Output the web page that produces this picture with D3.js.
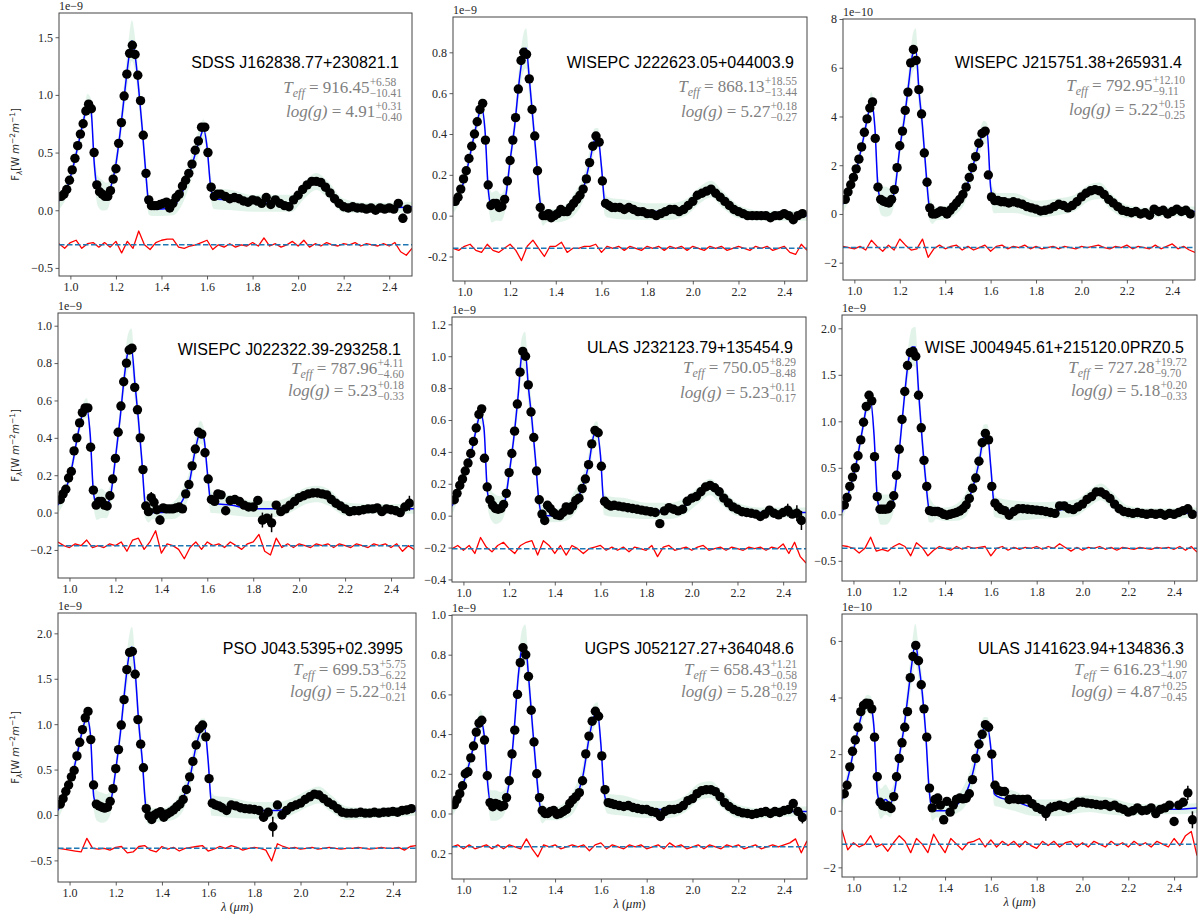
<!DOCTYPE html>
<html>
<head>
<meta charset="utf-8">
<script src="https://cdn.jsdelivr.net/npm/d3@7"></script>
<style>
  body { margin: 0; background: #fff; }
</style>
</head>
<body>
<svg id="chart" width="1198" height="918"></svg>
<script>
// ---- data ---------------------------------------------------------------

// wavelength grid of the observed spectra (micron)
const wave = [
  0.960,0.972,0.984,0.996,1.008,1.020,1.032,1.044,1.056,1.068,1.080,1.092,1.104,1.116,1.128,1.140,1.152,1.164,1.176,1.188,
  1.200,1.212,1.224,1.236,1.248,1.260,1.272,1.284,1.296,1.308,1.320,1.332,1.344,1.356,1.368,
  1.380,1.394,1.408,1.422,1.436,1.450,1.464,1.478,1.492,1.506,1.520,1.534,1.548,1.562,1.576,1.590,1.604,1.618,1.632,1.646,1.660,
  1.68,1.70,1.72,1.74,1.76,1.78,1.80,1.82,1.84,1.86,1.88,1.90,1.92,1.94,1.96,1.98,2.00,2.02,2.04,2.06,2.08,2.10,
  2.12,2.14,2.16,2.18,2.20,2.22,2.24,2.26,2.28,2.30,2.32,2.34,2.36,2.38,2.40,2.42,2.44,2.46,2.48
];

// wavelength grid of the best-fit model
const modelWave = [
  0.95,0.98,1.01,1.04,1.06,1.075,1.09,1.105,1.12,1.14,1.16,1.18,1.20,1.22,1.24,1.255,1.27,1.285,1.30,1.315,1.33,1.345,
  1.36,1.40,1.45,1.49,1.52,1.55,1.57,1.585,1.60,1.615,1.63,1.70,1.80,1.90,1.97,2.03,2.08,2.13,2.20,2.30,2.40,2.50
];

// half width of the model spread, as a fraction of the model peak
const bandWidth = [
  0.05,0.05,0.05,0.05,0.05,0.06,0.06,0.08,0.09,0.09,0.08,0.07,0.06,0.07,0.09,0.11,0.12,0.10,0.09,0.08,0.08,0.06,
  0.04,0.04,0.05,0.07,0.07,0.07,0.07,0.06,0.06,0.07,0.06,0.06,0.05,0.05,0.05,0.05,0.05,0.05,0.04,0.03,0.03,0.03
];

// wavelength grid of the residuals
const resWave = [
  0.95,0.975,1.0,1.025,1.05,1.075,1.1,1.125,1.15,1.175,1.2,1.225,1.25,1.275,1.3,1.325,1.35,1.375,1.4,1.425,1.45,1.475,
  1.5,1.525,1.55,1.575,1.6,1.625,1.65,1.675,1.7,1.725,1.75,1.775,1.8,1.825,1.85,1.875,1.9,1.925,1.95,1.975,
  2.0,2.025,2.05,2.075,2.1,2.125,2.15,2.175,2.2,2.225,2.25,2.275,2.3,2.325,2.35,2.375,2.4,2.425,2.45,2.475,2.5
];

const names = [
  "SDSS J162838.77+230821.1", "WISEPC J222623.05+044003.9", "WISEPC J215751.38+265931.4",
  "WISEPC J022322.39-293258.1", "ULAS J232123.79+135454.9", "WISE J004945.61+215120.0PRZ0.5",
  "PSO J043.5395+02.3995", "UGPS J052127.27+364048.6", "ULAS J141623.94+134836.3"
];
const teff = [
  ["916.45", "+6.58", "\u221210.41"], ["868.13", "+18.55", "\u221213.44"], ["792.95", "+12.10", "\u22129.11"],
  ["787.96", "+4.11", "\u22124.60"], ["750.05", "+8.29", "\u22128.48"], ["727.28", "+19.72", "\u22129.70"],
  ["699.53", "+5.75", "\u22126.22"], ["658.43", "+1.21", "\u22120.58"], ["616.23", "+1.90", "\u22124.07"]
];
const logg = [
  ["4.91", "+0.31", "\u22120.40"], ["5.27", "+0.18", "\u22120.27"], ["5.22", "+0.15", "\u22120.25"],
  ["5.23", "+0.18", "\u22120.33"], ["5.23", "+0.11", "\u22120.17"], ["5.18", "+0.20", "\u22120.33"],
  ["5.22", "+0.14", "\u22120.21"], ["5.28", "+0.19", "\u22120.27"], ["4.87", "+0.25", "\u22120.45"]
];
const scaleText = ["1e\u22129","1e\u22129","1e\u221210","1e\u22129","1e\u22129","1e\u22129","1e\u22129","1e\u22129","1e\u221210"];

// observed flux (units of the panel's scale text)
const flux1 = [
  0.12,0.14,0.18,0.26,0.35,0.45,0.56,0.66,0.75,0.86,0.92,0.88,0.50,0.22,0.16,0.14,0.12,0.12,0.17,0.27,0.36,0.58,0.76,0.99,1.18,1.36,1.43,1.35,1.17,0.95,0.65,0.32,0.09,0.04,0.04,
  0.04,0.05,0.06,0.07,0.02,0.06,0.11,0.14,0.21,0.26,0.32,0.40,0.52,0.60,0.72,0.72,0.50,0.20,0.12,0.14,0.14,
  0.12,0.10,0.11,0.10,0.08,0.07,0.09,0.08,0.06,0.11,0.05,0.09,0.06,0.04,0.03,0.09,0.13,0.18,0.22,0.25,0.25,0.24,0.20,0.15,0.10,0.06,0.03,0.02,0.03,0.02,0.02,0.01,0.02,0.00,0.02,0.01,0.02,0.01,0.06,-0.07,0.01
];
const flux2 = [
  0.07,0.09,0.13,0.18,0.22,0.28,0.34,0.40,0.46,0.52,0.55,0.37,0.15,0.05,0.06,0.06,0.04,0.045,0.08,0.17,0.27,0.37,0.48,0.62,0.76,0.80,0.79,0.67,0.52,0.39,0.22,0.04,0.00,0.00,0.01,
  -0.01,0.00,0.01,0.03,0.02,0.02,0.04,0.06,0.08,0.10,0.13,0.18,0.26,0.34,0.39,0.36,0.17,0.06,0.05,0.04,0.04,
  0.04,0.03,0.04,0.03,0.02,0.02,0.01,0.01,0.00,0.01,0.02,0.03,0.03,0.02,0.03,0.05,0.07,0.10,0.11,0.12,0.13,0.11,0.09,0.07,0.05,0.03,0.02,0.01,0.00,0.00,0.00,0.00,0.00,-0.01,0.00,0.00,0.01,0.00,-0.02,0.00,0.01
];
const flux3 = [
  0.6,0.9,1.2,1.5,1.85,2.25,2.75,3.35,3.9,4.35,4.6,3.1,1.1,0.6,0.52,0.48,0.45,0.6,1.0,1.9,2.8,3.4,4.25,5.0,6.2,6.75,6.3,5.1,4.1,2.5,1.3,0.25,0.0,0.0,0.05,
  0.12,0.1,0.0,0.15,0.3,0.45,0.6,0.8,1.1,1.5,1.9,2.35,2.9,3.3,3.4,1.6,0.7,0.55,0.55,0.5,0.5,
  0.45,0.5,0.45,0.4,0.3,0.25,0.2,0.12,0.15,0.2,0.3,0.4,0.35,0.25,0.35,0.5,0.7,0.85,0.95,1.0,0.95,0.8,0.6,0.45,0.3,0.15,0.1,0.05,0.1,0.0,0.05,-0.05,0.2,0.1,0.15,0.0,0.1,0.2,0.1,0.15,0.0
];
const flux4 = [
  0.07,0.10,0.125,0.185,0.22,0.33,0.40,0.48,0.535,0.56,0.56,0.35,0.12,0.04,0.06,0.06,0.04,0.035,0.09,0.18,0.29,0.43,0.57,0.70,0.80,0.87,0.88,0.67,0.55,0.40,0.23,0.035,0.005,0.08,0.055,
  0.015,-0.04,0.025,0.02,0.02,0.02,0.025,0.03,0.02,0.10,0.15,0.25,0.34,0.43,0.42,0.32,0.18,0.07,0.06,0.10,0.095,
  0.01,0.065,0.07,0.06,0.04,0.03,0.03,0.065,-0.04,-0.03,-0.055,0.04,0.005,0.02,0.04,0.06,0.08,0.09,0.10,0.105,0.105,0.10,0.095,0.07,0.05,0.035,0.02,0.005,0.01,0.01,0.015,0.02,0.02,0.025,0.005,0.02,0.015,0.01,0.0,0.03,0.05
];
const flux5 = [
  0.10,0.14,0.19,0.23,0.28,0.33,0.39,0.465,0.55,0.635,0.67,0.36,0.18,0.10,0.065,0.045,0.04,0.045,0.07,0.14,0.27,0.39,0.53,0.70,0.90,1.03,1.00,0.82,0.65,0.49,0.28,0.10,0.01,-0.03,0.065,
  0.045,0.02,0.005,0.0,0.02,0.055,0.035,0.06,0.095,0.11,0.17,0.23,0.32,0.45,0.535,0.52,0.31,0.09,0.07,0.06,0.065,
  0.06,0.055,0.05,0.045,0.04,0.035,0.03,0.025,0.02,-0.05,0.03,0.05,0.04,0.03,0.04,0.09,0.11,0.12,0.15,0.18,0.19,0.175,0.15,0.11,0.08,0.055,0.04,0.025,0.02,0.015,0.01,-0.005,0.01,0.035,0.015,0.005,0.02,0.035,0.01,0.015,-0.03
];
const flux6 = [
  0.10,0.18,0.30,0.40,0.50,0.63,0.80,0.99,1.16,1.28,1.22,0.62,0.19,0.055,0.055,0.055,0.06,0.10,0.20,0.42,0.70,1.02,1.32,1.60,1.74,1.75,1.70,1.28,0.93,0.58,0.30,0.04,0.03,0.03,0.03,
  0.02,0.0,-0.01,0.0,0.01,0.02,0.035,0.06,0.10,0.17,0.28,0.39,0.57,0.77,0.87,0.80,0.30,0.12,0.08,0.05,0.04,
  -0.01,0.03,0.06,0.06,0.055,0.05,0.045,0.04,0.03,0.02,0.01,0.09,0.09,0.06,0.05,0.08,0.11,0.16,0.19,0.24,0.24,0.21,0.17,0.11,0.06,0.03,0.02,0.01,0.02,0.01,0.0,0.01,0.0,0.01,-0.01,0.01,0.0,0.02,0.04,0.06,0.0
];
const flux7 = [
  0.12,0.18,0.26,0.33,0.42,0.49,0.65,0.80,0.94,1.07,1.14,0.83,0.33,0.12,0.10,0.085,0.075,0.085,0.15,0.29,0.51,0.72,0.99,1.27,1.60,1.79,1.80,1.55,1.05,0.78,0.52,0.07,-0.01,-0.05,0.0,
  0.02,0.035,-0.025,0.01,0.03,0.055,0.09,0.12,0.17,0.28,0.42,0.59,0.77,0.95,0.99,0.86,0.40,0.13,0.11,0.10,0.08,
  0.05,0.11,0.10,0.08,0.07,0.065,0.06,0.05,-0.025,0.03,-0.13,0.11,0.0,0.05,0.09,0.11,0.13,0.17,0.20,0.23,0.22,0.18,0.14,0.11,0.07,0.03,0.02,0.02,0.02,0.03,0.02,0.02,0.03,0.02,0.03,0.03,0.04,0.03,0.05,0.055,0.07
];
const flux8 = [
  0.045,0.07,0.10,0.14,0.20,0.21,0.28,0.34,0.41,0.455,0.47,0.37,0.19,0.055,0.034,0.05,0.045,0.034,0.04,0.08,0.165,0.30,0.42,0.60,0.76,0.835,0.80,0.69,0.52,0.36,0.20,0.08,0.015,0.0,0.0,
  0.01,0.015,-0.005,0.0,0.01,0.02,0.05,0.07,0.085,0.105,0.165,0.30,0.39,0.465,0.515,0.49,0.29,0.12,0.055,0.05,0.045,
  0.04,0.035,0.04,0.03,0.025,0.02,0.02,0.01,0.005,-0.015,0.01,0.02,0.02,0.025,0.04,0.065,0.075,0.10,0.115,0.12,0.12,0.11,0.085,0.055,0.035,0.02,0.01,0.003,0.0,-0.005,0.0,0.005,0.01,0.0,0.01,0.005,0.015,0.02,0.05,0.01,-0.02
];
const flux9 = [
  0.6,0.9,1.55,2.1,2.5,2.95,3.5,3.72,3.8,3.79,3.6,2.6,1.2,0.3,0.18,0.15,0.17,0.08,0.5,1.2,1.85,2.4,2.95,3.5,4.7,5.45,5.84,5.3,4.45,3.6,2.6,0.8,0.1,0.4,0.45,
  0.2,-0.32,0.33,-0.05,0.2,0.4,0.45,0.42,0.44,0.6,1.1,1.85,2.35,2.7,3.04,2.95,2.0,0.9,0.72,0.68,0.68,
  0.4,0.42,0.4,0.4,0.41,0.25,0.12,0.05,-0.1,0.1,0.15,0.2,0.15,0.1,0.2,0.3,0.3,0.27,0.25,0.22,0.2,0.22,0.15,0.2,0.1,0.05,-0.05,0.0,0.1,0.0,0.02,0.1,-0.1,0.05,0.1,0.2,-0.38,0.2,0.3,0.63,-0.32
];

// best-fit model flux on modelWave
const model1 = [0.08,0.17,0.36,0.62,0.80,0.92,0.88,0.40,0.17,0.13,0.12,0.22,0.40,0.70,1.05,1.30,1.47,1.33,1.05,0.72,0.35,0.05,0.01,0.01,0.03,0.15,0.30,0.50,0.63,0.70,0.55,0.22,0.10,0.09,0.06,0.06,0.06,0.18,0.25,0.18,0.04,0.02,0.02,0.03];
const model2 = [0.05,0.11,0.22,0.38,0.48,0.53,0.42,0.12,0.04,0.05,0.04,0.09,0.27,0.44,0.66,0.78,0.82,0.66,0.47,0.28,0.08,0.00,0.00,0.00,0.02,0.07,0.13,0.27,0.37,0.38,0.24,0.06,0.04,0.03,0.02,0.02,0.04,0.10,0.13,0.08,0.02,0.00,0.00,0.00];
const model3 = [0.4,1.0,1.85,3.1,4.05,4.6,3.6,1.0,0.55,0.5,0.5,1.1,2.7,3.9,5.4,6.5,6.8,5.0,3.6,1.8,0.3,0.0,0.0,0.05,0.35,1.0,1.9,2.9,3.35,3.3,1.1,0.5,0.45,0.45,0.2,0.3,0.45,0.85,0.95,0.5,0.1,0.05,0.1,0.1];
const model4 = [0.04,0.11,0.24,0.44,0.54,0.56,0.42,0.10,0.04,0.05,0.04,0.10,0.29,0.50,0.74,0.86,0.88,0.69,0.50,0.28,0.04,0.00,0.00,0.00,0.01,0.06,0.15,0.35,0.43,0.40,0.22,0.06,0.05,0.04,0.02,0.02,0.05,0.09,0.10,0.08,0.02,0.02,0.02,0.02];
const model5 = [0.06,0.16,0.28,0.43,0.57,0.64,0.55,0.15,0.07,0.04,0.04,0.08,0.26,0.48,0.76,1.00,1.03,0.80,0.60,0.36,0.10,0.00,0.00,0.00,0.02,0.09,0.17,0.33,0.50,0.53,0.38,0.08,0.06,0.05,0.03,0.03,0.06,0.13,0.18,0.12,0.04,0.02,0.02,0.02];
const model6 = [0.02,0.24,0.52,0.92,1.18,1.22,0.85,0.15,0.05,0.05,0.07,0.22,0.68,1.20,1.65,1.80,1.80,1.30,0.80,0.38,0.06,0.02,0.02,0.00,0.02,0.10,0.28,0.58,0.84,0.86,0.50,0.10,0.07,0.04,0.04,0.05,0.07,0.17,0.24,0.15,0.02,0.01,0.01,0.02];
const model7 = [0.05,0.22,0.42,0.75,0.98,1.07,0.90,0.20,0.10,0.08,0.08,0.17,0.50,0.90,1.40,1.72,1.85,1.55,1.00,0.60,0.10,0.00,0.00,0.00,0.04,0.17,0.40,0.78,0.93,0.95,0.60,0.12,0.10,0.08,0.05,0.05,0.10,0.18,0.22,0.13,0.02,0.02,0.03,0.05];
const model8 = [0.03,0.09,0.19,0.32,0.43,0.47,0.40,0.16,0.04,0.04,0.04,0.06,0.16,0.40,0.70,0.83,0.85,0.68,0.46,0.25,0.07,0.00,0.00,0.00,0.02,0.08,0.18,0.39,0.49,0.51,0.35,0.10,0.05,0.04,0.02,0.02,0.05,0.11,0.12,0.07,0.01,0.00,0.01,0.01];
const model9 = [0.4,1.3,2.5,3.5,3.8,3.7,2.9,0.6,0.25,0.4,0.25,0.7,1.9,2.9,4.2,5.2,5.9,5.2,4.2,2.8,0.8,0.0,0.0,0.0,0.2,0.6,1.3,2.4,2.9,2.95,2.2,0.6,0.5,0.35,0.1,0.1,0.2,0.25,0.2,0.15,0.05,0.05,0.05,0.1];

// residuals (data - model) on resWave, drawn around resOffset
const resid1 = [0.01,-0.03,0.02,0.04,-0.03,0.01,0.02,-0.02,0.02,-0.02,0.03,-0.07,0.03,-0.03,0.12,0.00,-0.04,0.02,0.04,0.05,0.05,-0.02,-0.03,-0.01,0.00,0.02,0.04,-0.04,0.00,-0.02,0.01,-0.02,0.00,-0.01,0.02,-0.01,0.06,-0.01,0.01,-0.02,0.00,0.03,-0.01,0.04,-0.02,0.01,-0.01,0.02,0.00,-0.01,0.01,0.00,0.02,-0.01,0.01,0.00,-0.01,0.01,-0.01,0.02,-0.06,-0.09,-0.03];
const resid2 = [0.00,-0.01,0.01,0.02,-0.01,-0.02,0.02,-0.01,-0.02,0.00,0.02,-0.01,-0.06,0.01,0.04,0.00,-0.04,0.01,0.01,0.03,-0.02,0.00,0.00,0.01,0.01,0.02,-0.02,0.01,0.00,0.01,-0.01,0.01,0.00,-0.01,0.01,0.00,0.01,-0.01,0.01,0.00,0.01,-0.01,0.01,0.00,-0.01,0.01,0.00,0.01,-0.01,0.00,0.01,0.00,-0.01,0.01,0.00,0.01,-0.01,0.00,0.01,-0.02,-0.03,0.02,-0.01];
const resid3 = [0.05,0.00,-0.05,0.05,-0.10,0.30,0.05,-0.15,0.10,-0.10,0.35,0.10,-0.10,-0.05,0.35,-0.40,-0.05,0.10,-0.05,0.05,0.10,-0.10,0.05,-0.10,0.00,0.10,-0.15,0.05,0.10,-0.05,0.05,0.00,0.10,-0.05,0.05,-0.05,0.00,0.05,-0.05,0.05,0.00,-0.05,0.05,0.00,0.05,0.10,0.00,-0.05,0.05,0.00,0.10,-0.05,0.05,0.00,-0.05,0.10,-0.05,0.05,0.15,-0.05,0.05,-0.10,-0.20];
const resid4 = [0.02,0.00,-0.01,0.01,0.00,0.03,-0.01,0.00,-0.01,0.01,0.00,0.02,-0.03,0.03,0.04,-0.02,0.02,0.08,-0.04,0.01,0.00,-0.02,-0.07,-0.01,0.02,-0.02,0.02,0.00,0.01,-0.01,0.02,0.00,-0.02,0.01,0.02,0.06,-0.03,-0.05,0.04,-0.01,0.01,-0.01,0.01,0.00,-0.01,0.01,0.00,0.01,-0.01,0.01,0.00,-0.01,0.01,0.00,-0.01,0.01,0.00,0.01,-0.01,0.01,-0.03,0.00,-0.02];
const resid5 = [0.00,0.02,-0.01,0.02,-0.03,0.07,0.01,-0.02,0.02,0.04,0.00,-0.03,0.02,0.04,0.05,-0.04,0.05,0.02,-0.03,0.02,-0.04,0.02,0.00,-0.03,0.00,0.01,0.02,-0.01,0.01,-0.01,0.01,-0.02,0.01,0.00,-0.01,0.02,-0.05,0.01,0.02,-0.01,0.00,0.01,-0.01,0.01,0.02,-0.01,0.00,0.01,-0.01,0.01,0.00,-0.01,0.01,0.00,0.01,-0.01,0.01,0.00,0.03,-0.03,0.04,-0.05,-0.09];
const resid6 = [0.03,0.02,0.00,-0.05,0.00,0.12,-0.03,-0.01,-0.03,0.02,0.05,0.02,-0.08,0.06,0.01,-0.08,-0.02,0.02,0.00,-0.02,0.02,-0.01,0.02,0.00,0.01,0.02,-0.08,0.00,0.02,-0.02,0.01,-0.01,0.01,0.00,0.02,-0.01,0.02,0.00,0.05,0.01,-0.03,0.01,-0.02,0.01,0.00,0.02,-0.01,0.01,-0.02,0.01,0.00,-0.01,0.01,0.00,-0.01,0.01,0.00,0.01,-0.01,0.02,-0.02,0.02,-0.04];
const resid7 = [0.00,-0.01,-0.02,-0.03,-0.04,0.11,0.00,-0.01,0.00,-0.02,0.01,0.02,-0.05,-0.04,0.02,0.03,-0.02,-0.04,0.02,-0.01,0.01,-0.03,0.00,0.01,0.02,0.03,-0.03,-0.01,0.02,0.00,0.03,0.01,-0.02,0.00,0.01,0.00,-0.02,-0.14,0.05,0.02,0.00,0.01,-0.01,0.00,0.01,-0.01,0.00,0.01,0.00,-0.01,0.00,0.00,0.01,0.00,-0.01,0.00,0.01,0.00,0.00,0.01,-0.02,0.02,0.03];
const resid8 = [0.00,0.01,-0.01,0.01,-0.01,0.00,0.01,-0.01,0.01,-0.01,0.01,0.00,-0.01,0.04,-0.01,-0.05,0.01,0.00,0.01,-0.01,0.00,0.01,0.00,0.01,-0.02,0.01,0.02,-0.01,0.01,0.00,-0.01,0.01,0.00,0.01,-0.01,0.00,0.01,-0.01,0.02,0.00,0.01,-0.01,0.00,0.01,-0.01,0.01,0.00,-0.01,0.01,0.00,0.01,-0.01,0.00,0.01,-0.01,0.00,0.01,0.00,0.01,0.02,0.04,-0.03,0.03];
const resid9 = [0.50,-0.20,0.05,-0.10,0.00,0.30,-0.10,0.00,-0.25,0.05,0.30,0.10,-0.30,0.20,0.00,-0.30,0.35,0.00,-0.30,0.20,0.00,-0.20,0.05,0.10,0.20,-0.10,0.15,-0.10,0.10,-0.05,0.10,-0.10,0.10,-0.05,-0.15,0.10,-0.05,0.10,-0.10,0.05,0.10,-0.10,0.05,-0.10,0.10,0.00,-0.10,0.10,-0.05,0.05,-0.10,0.10,-0.05,0.05,-0.10,0.10,0.00,-0.10,0.20,-0.05,0.30,0.45,-0.40];

// level at which each residual curve is drawn
const resOffset = [-0.30, -0.16, -1.38, -0.177, -0.207, -0.366, -0.367, -0.168, -1.18];

// points with visible error bars: [wavelength, flux, error]
const errBars = [
  [[2.44, 0.06, 0.02], [2.46, -0.07, 0.04]],
  [],
  [],
  [[1.356, 0.08, 0.03], [1.394, -0.04, 0.025], [1.84, -0.04, 0.04], [1.88, -0.055, 0.05], [2.48, 0.05, 0.04]],
  [[1.86, -0.05, 0.025], [2.42, 0.035, 0.04], [2.46, 0.015, 0.05], [2.48, -0.03, 0.06]],
  [],
  [[1.356, -0.05, 0.02], [1.84, -0.025, 0.05], [1.88, -0.13, 0.11]],
  [[2.48, -0.02, 0.03]],
  [[1.394, -0.32, 0.15], [1.84, -0.1, 0.25], [1.86, 0.1, 0.2], [2.40, -0.38, 0.15], [2.46, 0.63, 0.25], [2.48, -0.32, 0.3]]
];

// axes
const xTicks = [1.0, 1.2, 1.4, 1.6, 1.8, 2.0, 2.2, 2.4];
const xTickLabels = ["1.0", "1.2", "1.4", "1.6", "1.8", "2.0", "2.2", "2.4"];
const yTicks = [
  [-0.5, 0, 0.5, 1.0, 1.5],
  [-0.2, 0, 0.2, 0.4, 0.6, 0.8],
  [-2, 0, 2, 4, 6, 8],
  [-0.2, 0, 0.2, 0.4, 0.6, 0.8, 1.0],
  [-0.4, -0.2, 0, 0.2, 0.4, 0.6, 0.8, 1.0, 1.2],
  [-0.5, 0, 0.5, 1.0, 1.5, 2.0],
  [-0.5, 0, 0.5, 1.0, 1.5, 2.0],
  [-0.2, 0, 0.2, 0.4, 0.6, 0.8, 1.0],
  [-2, 0, 2, 4, 6]
];
const yTickLabels = [
  ["\u22120.5", "0.0", "0.5", "1.0", "1.5"],
  ["-0.2", "0.0", "0.2", "0.4", "0.6", "0.8"],
  ["\u22122", "0", "2", "4", "6", "8"],
  ["\u22120.2", "0.0", "0.2", "0.4", "0.6", "0.8", "1.0"],
  ["\u22120.4", "\u22120.2", "0.0", "0.2", "0.4", "0.6", "0.8", "1.0", "1.2"],
  ["\u22120.5", "0.0", "0.5", "1.0", "1.5", "2.0"],
  ["\u22120.5", "0.0", "0.5", "1.0", "1.5", "2.0"],
  ["0.2", "0.0", "0.2", "0.4", "0.6", "0.8", "1.0"],
  ["\u22122", "0", "2", "4", "6"]
];

// ---- layout -------------------------------------------------------------

const boxes = [
  [59, 13, 412, 276], [453, 17, 807, 281], [843, 19, 1195, 280],
  [58, 313, 414, 578], [452, 317, 806, 582], [842, 315, 1197, 581],
  [58, 613, 416, 882], [452, 615, 807, 879], [842, 614, 1197, 877]
];
const yDomains = [
  [-0.57, 1.71], [-0.32, 0.973], [-2.71, 8.0],
  [-0.35, 1.068], [-0.416, 1.246], [-0.717, 2.143],
  [-0.738, 2.224], [-0.33, 1.0], [-2.34, 6.95]
];
const xDomain = [0.95, 2.5];
// baselines of name / Teff / log(g), measured from the top of each box
const textRows = [[55, 80, 104], [51, 75, 100], [49, 72, 96],
                  [42, 61, 83], [36, 56, 81], [38, 58, 81],
                  [41, 62, 84], [39, 60, 82], [40, 61, 83]];

const SERIF = "'Liberation Serif', 'Times New Roman', serif";
const SANS  = "'Liberation Sans', Arial, Helvetica, sans-serif";

const fluxes = [flux1, flux2, flux3, flux4, flux5, flux6, flux7, flux8, flux9];
const models = [model1, model2, model3, model4, model5, model6, model7, model8, model9];
const resids = [resid1, resid2, resid3, resid4, resid5, resid6, resid7, resid8, resid9];

const svg = d3.select("#chart");
const defs = svg.append("defs");

boxes.forEach(function(b, i) { drawPanel(i); });

function drawPanel(i) {
  let [x0, y0, x1, y1] = boxes[i];

  let x = d3.scaleLinear().domain(xDomain).range([x0, x1]);
  let y = d3.scaleLinear().domain(yDomains[i]).range([y1, y0]);

  defs.append("clipPath")
      .attr("id", "clip" + i)
    .append("rect")
      .attr("x", x0).attr("y", y0)
      .attr("width", x1 - x0).attr("height", y1 - y0);

  let g = svg.append("g");
  let plot = g.append("g").attr("clip-path", "url(#clip" + i + ")");

  // model spread + best fit
  let model = modelWave.map(function(w, j) { return {w: w, f: models[i][j], s: bandWidth[j]}; })
                       .filter(function(d) { return d.f !== undefined; });
  let peak = d3.max(models[i]);

  let band = d3.area()
      .curve(d3.curveMonotoneX)
      .x(function(d) { return x(d.w); })
      .y0(function(d) { return y(d.f - d.s * peak); })
      .y1(function(d) { return y(d.f + d.s * peak); });

  plot.append("path")
      .attr("d", band(model))
      .attr("fill", "#3cb371")
      .attr("fill-opacity", 0.15);

  let line = d3.line()
      .curve(d3.curveMonotoneX)
      .x(function(d) { return x(d.w); })
      .y(function(d) { return y(d.f); });

  plot.append("path")
      .attr("d", line(model))
      .attr("fill", "none")
      .attr("stroke", "#0000ff")
      .attr("stroke-width", 1.5);

  // observed spectrum
  let obs = wave.map(function(w, j) { return {w: w, f: fluxes[i][j]}; })
                .filter(function(d) { return d.f !== undefined; });

  plot.selectAll(".err")
      .data(errBars[i])
      .enter()
      .append("line")
        .attr("x1", function(d) { return x(d[0]); })
        .attr("x2", function(d) { return x(d[0]); })
        .attr("y1", function(d) { return y(d[1] - d[2]); })
        .attr("y2", function(d) { return y(d[1] + d[2]); })
        .attr("stroke", "#000")
        .attr("stroke-width", 1.5);

  plot.selectAll(".dot")
      .data(obs)
      .enter()
      .append("circle")
        .attr("cx", function(d) { return x(d.w); })
        .attr("cy", function(d) { return y(d.f); })
        .attr("r", 4.7)
        .attr("fill", "#000");

  // residuals
  let res = resWave.map(function(w, j) { return {w: w, f: resOffset[i] + resids[i][j]}; })
                   .filter(function(d) { return !isNaN(d.f); });

  plot.append("path")
      .attr("d", d3.line().x(function(d) { return x(d.w); }).y(function(d) { return y(d.f); })(res))
      .attr("fill", "none")
      .attr("stroke", "#ff0000")
      .attr("stroke-width", 1.3)
      .attr("stroke-linejoin", "round");

  plot.append("line")
      .attr("x1", x0).attr("x2", x1)
      .attr("y1", y(resOffset[i])).attr("y2", y(resOffset[i]))
      .attr("stroke", "#1f77b4")
      .attr("stroke-width", 1.5)
      .attr("stroke-dasharray", "5.5,2.5");

  // axes
  let ya = g.append("g")
      .attr("transform", translate(x0, 0))
      .call(d3.axisLeft(y)
              .tickValues(yTicks[i])
              .tickFormat(function(d, j) { return yTickLabels[i][j]; })
              .tickSize(3.5)
              .tickPadding(2.5));
  styleAxis(ya);

  let xa = g.append("g")
      .attr("transform", translate(0, y1))
      .call(d3.axisBottom(x)
              .tickValues(xTicks)
              .tickFormat(function(d, j) { return xTickLabels[j]; })
              .tickSize(3.5)
              .tickPadding(3));
  styleAxis(xa);

  g.append("rect")
      .attr("x", x0).attr("y", y0)
      .attr("width", x1 - x0).attr("height", y1 - y0)
      .attr("fill", "none")
      .attr("stroke", "#444")
      .attr("stroke-width", 1);

  g.append("text")
      .attr("x", x0).attr("y", y0 - 3)
      .style("font-family", SERIF)
      .style("font-size", "12px")
      .attr("fill", "#262626")
      .text(scaleText[i]);

  // labels
  let rows = textRows[i];
  g.append("text")
      .attr("x", x1 - 13)
      .attr("y", y0 + rows[0])
      .attr("text-anchor", "end")
      .style("font-family", SANS)
      .style("font-size", "16px")
      .attr("fill", "#000")
      .text(names[i]);

  drawParam(g, "T", "eff", teff[i], x1 - 10, y0 + rows[1]);
  drawParam(g, "log(g)", null, logg[i], x1 - 10, y0 + rows[2]);

  if (i % 3 === 0) {
    let ly = g.append("text")
        .attr("transform", translate(19, (y0 + y1) / 2) + " rotate(-90)")
        .attr("text-anchor", "middle")
        .style("font-family", "'DejaVu Sans', sans-serif")
        .style("font-size", "10px")
        .attr("fill", "#262626");
    ly.append("tspan").text("F");
    ly.append("tspan").attr("dy", 3).style("font-size", "7.5px").style("font-style", "italic").text("\u03bb");
    ly.append("tspan").attr("dy", -3).text("[W\u00a0");
    ly.append("tspan").style("font-style", "italic").text("m");
    ly.append("tspan").attr("dy", -4).style("font-size", "7.5px").text("\u22122");
    ly.append("tspan").attr("dy", 4).style("font-style", "italic").text("m");
    ly.append("tspan").attr("dy", -4).style("font-size", "7.5px").text("\u22121");
    ly.append("tspan").attr("dy", 4).text("]");
  }

  if (i >= 6) {
    let lx = g.append("text")
        .attr("x", (x0 + x1) / 2)
        .attr("y", y1 + 29)
        .attr("text-anchor", "middle")
        .style("font-family", SERIF)
        .style("font-size", "12.5px")
        .attr("fill", "#262626");
    lx.append("tspan").style("font-style", "italic").text("\u03bb");
    lx.append("tspan").text("\u00a0(");
    lx.append("tspan").style("font-style", "italic").text("\u03bcm");
    lx.append("tspan").text(")");
  }
}

function styleAxis(a) {
  a.select(".domain").remove();
  a.selectAll("line").attr("stroke", "#333").attr("stroke-width", 0.8);
  a.selectAll("text")
      .style("font-family", SERIF)
      .style("font-size", "12px")
      .attr("fill", "#262626");
}

// "T_eff = value^{+up}_{-down}" right-aligned at xRight
function drawParam(g, sym, symSub, vals, xRight, yBase) {
  let t = g.append("g")
      .attr("fill", "#808080")
      .style("font-family", SERIF);
  let cursor = 0;

  function put(txt, size, dy, italic) {
    let el = t.append("text")
        .attr("x", cursor)
        .attr("y", dy)
        .style("font-size", size + "px")
        .style("font-style", italic ? "italic" : "normal")
        .text(txt);
    return el.node().getComputedTextLength();
  }

  cursor += put(sym, 17, 0, true);
  if (symSub) cursor += put(symSub, 12, 3.5, true);
  cursor += put("\u00a0=\u00a0" + vals[0], 17, 0, false);
  let wUp = put(vals[1], 11.5, -7.5, false);
  let wDown = put(vals[2], 11.5, 3.6, false);
  cursor += Math.max(wUp, wDown);

  t.attr("transform", translate(xRight - cursor, yBase));
}

function translate(x, y=0) {
  return "translate({x}, {y})"
          .replace("{x}", x)
          .replace("{y}", y);
}
</script>
</body>
</html>
